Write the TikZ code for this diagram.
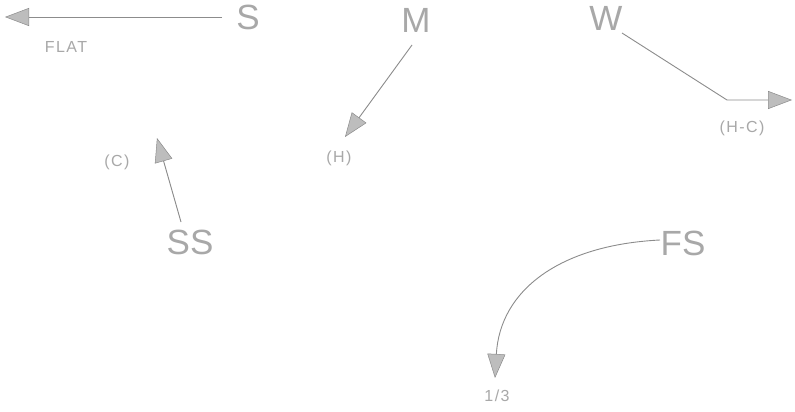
\documentclass[tikz,border=0pt]{standalone}
\usepackage{fontspec}
\setmainfont{Liberation Sans}
\usetikzlibrary{arrows.meta}
\definecolor{inkg}{HTML}{A8A8A8}
\definecolor{lineg}{HTML}{8C8C8C}
\definecolor{tipg}{HTML}{BDBDBD}
\tikzset{
  big/.style={text=inkg,font=\fontsize{35}{35}\selectfont,inner sep=0pt},
  small/.style={text=inkg,font=\fontsize{16}{16}\selectfont\addfontfeature{LetterSpace=9},inner sep=0pt},
  conn/.style={draw=lineg,line width=0.9pt,-{Triangle[length=24pt,width=18pt,fill=tipg,color=lineg,line width=0.5pt]}}
}
\begin{document}
\begin{tikzpicture}[x=1pt,y=-1pt]
\useasboundingbox[fill=white] (0,0) rectangle (795,412);
\node[big] (S) at (248,17) {S};
\node[small] (flat) at (66,47) {FLAT};
\coordinate (sStart) at (222,17);
\coordinate (sEnd) at (5,17);
\draw[conn] (sStart) -- (sEnd);

\node[big] (M) at (416,20) {M};
\node[small] (H) at (339,158) {(H)};
\coordinate (mStart) at (412,45);
\coordinate (mEnd) at (345,137);
\draw[conn] (mStart) -- (mEnd);

\node[big] (W) at (606,18) {W};
\node[small] (HC) at (742,128) {(H-C)};
\coordinate (wStart) at (622,33);
\coordinate (wBend) at (727,100);
\coordinate (wEnd) at (792,100);
\draw[conn] (wStart) -- (wBend) -- (wEnd);

\node[big] (SS) at (190,242) {SS};
\node[small] (C) at (117,162) {(C)};
\coordinate (ssStart) at (181,222);
\coordinate (ssEnd) at (157,138);
\draw[conn] (ssStart) -- (ssEnd);

\node[big] (FS) at (683,243) {FS};
\node[small] (third) at (497,396) {1/3};
\coordinate (fsStart) at (660,240);
\coordinate (fsEnd) at (495,378);
\draw[conn] (fsStart) .. controls (560,245) and (500,290) .. (fsEnd);
\end{tikzpicture}
\end{document}
